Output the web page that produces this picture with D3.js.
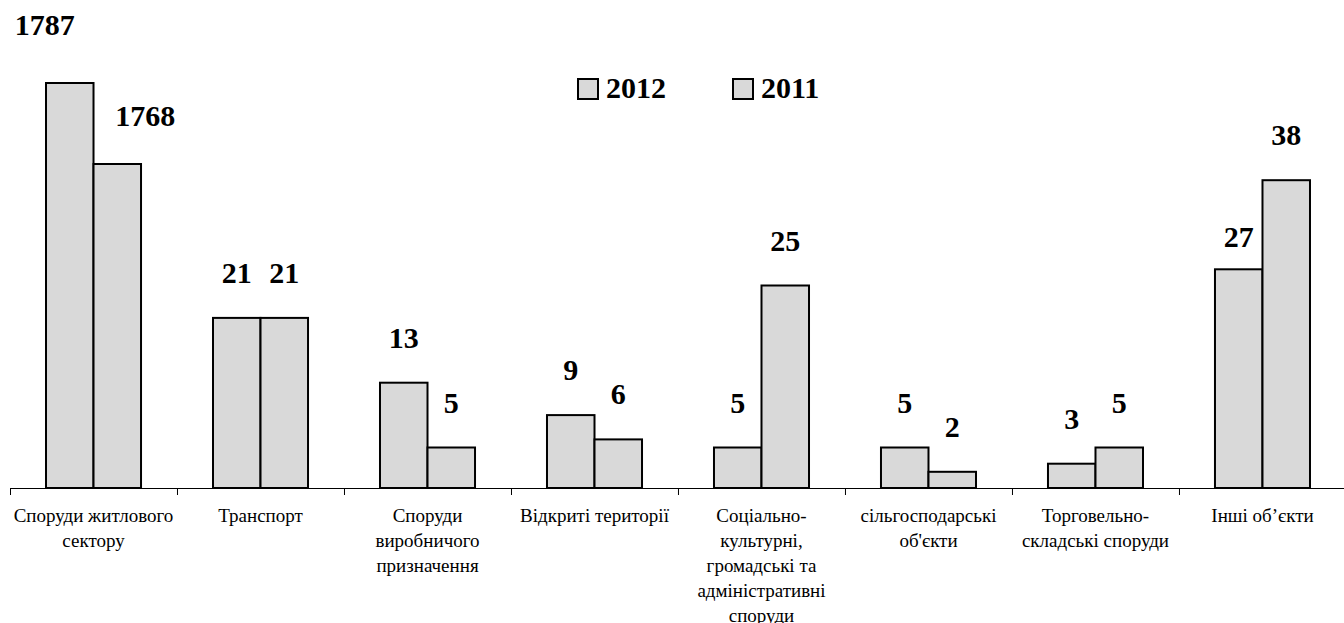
<!DOCTYPE html>
<html>
<head>
<meta charset="utf-8">
<script src="https://cdn.jsdelivr.net/npm/d3@7"></script>
<style>
  body { margin: 0; background: #fff; }
</style>
</head>
<body>
<svg id="chart" width="1344" height="623"></svg>
<script>
//^^^^^^^^^^^^^^^^^^^^^^^^^^^^^^^^^^^^^^^^^^^^^^^^^^^^^^^^^^^^^^^^^^^^^^^^^^^^^^
// Data
//------------------------------------------------------------------------------
var categories = [
    ["Споруди житлового", "сектору"],
    ["Транспорт"],
    ["Споруди", "виробничого", "призначення"],
    ["Відкриті території"],
    ["Соціально-", "культурні,", "громадські та", "адміністративні", "споруди"],
    ["сільгосподарські", "об'єкти"],
    ["Торговельно-", "складські споруди"],
    ["Інші об’єкти"]
];
var seriesNames = ["2012", "2011"];
var values2012 = [1787, 21, 13, 9, 5, 5, 3, 27];
var values2011 = [1768, 21, 5, 6, 25, 2, 5, 38];
// the housing sector is off the scale, its bars are drawn shortened
var drawn2012 = [50, 21, 13, 9, 5, 5, 3, 27];
var drawn2011 = [40, 21, 5, 6, 25, 2, 5, 38];

var svg = d3.select("#chart"),
    font = "'Liberation Serif'",
    fill = "#d9d9d9",
    base = 488;

var x = d3.scaleBand()
    .domain(d3.range(categories.length))
    .range([10, 1346])
    .paddingInner(0.431)
    .paddingOuter(0.2156);

var xs = d3.scaleBand().domain(seriesNames).range([0, x.bandwidth()]);

var y = d3.scaleLinear().domain([0, 50]).range([base, 83]);

var rows = [];
categories.forEach(function(c, i) {
    rows.push({i: i, s: "2012", v: values2012[i], h: drawn2012[i]});
    rows.push({i: i, s: "2011", v: values2011[i], h: drawn2011[i]});
});

//^^^^^^^^^^^^^^^^^^^^^^^^^^^^^^^^^^^^^^^^^^^^^^^^^^^^^^^^^^^^^^^^^^^^^^^^^^^^^^
// Bars
//------------------------------------------------------------------------------
svg.append("g").selectAll("rect")
    .data(rows)
    .enter().append("rect")
    .attr("x", function(d) { return x(d.i) + xs(d.s); })
    .attr("y", function(d) { return y(d.h); })
    .attr("width", xs.bandwidth())
    .attr("height", function(d) { return base - y(d.h); })
    .attr("fill", fill)
    .attr("stroke", "#000")
    .attr("stroke-width", 2);

//^^^^^^^^^^^^^^^^^^^^^^^^^^^^^^^^^^^^^^^^^^^^^^^^^^^^^^^^^^^^^^^^^^^^^^^^^^^^^^
// Axis line and ticks between categories
//------------------------------------------------------------------------------
var step = x.step(), x0 = x.range()[0];
var axis = svg.append("g").attr("stroke", "#000").attr("stroke-width", 1);
axis.append("line")
    .attr("x1", x0).attr("x2", x.range()[1])
    .attr("y1", base + 0.5).attr("y2", base + 0.5);
axis.selectAll("line.tick")
    .data(d3.range(categories.length + 1))
    .enter().append("line")
    .attr("class", "tick")
    .attr("x1", function(i) { return x0 + step * i + 0.5; })
    .attr("x2", function(i) { return x0 + step * i + 0.5; })
    .attr("y1", base).attr("y2", base + 7);

svg.append("g").selectAll("text")
    .data(categories)
    .enter().append("text")
    .attr("text-anchor", "middle")
    .style("font-family", font)
    .style("font-size", "19px")
    .each(function(lines, i) {
        var t = d3.select(this);
        lines.forEach(function(l, k) {
            t.append("tspan")
                .attr("x", x(i) + x.bandwidth() / 2)
                .attr("y", 522 + k * 25)
                .text(l);
        });
    });

//^^^^^^^^^^^^^^^^^^^^^^^^^^^^^^^^^^^^^^^^^^^^^^^^^^^^^^^^^^^^^^^^^^^^^^^^^^^^^^
// Value labels
//------------------------------------------------------------------------------
svg.append("g").selectAll("text")
    .data(rows)
    .enter().append("text")
    .attr("text-anchor", "middle")
    .style("font-family", font)
    .style("font-size", "30px")
    .style("font-weight", "bold")
    .attr("x", function(d) {
        var cx = x(d.i) + xs(d.s) + xs.bandwidth() / 2;
        if (d.i === 0) cx += d.s === "2012" ? -25 : 28;
        return cx;
    })
    .attr("y", function(d) {
        if (d.i === 0 && d.s === "2012") return 35;
        if (d.i === 0) return y(d.h) - 38;
        if (d.v === 27) return y(d.h) - 22;
        return y(d.h) - 35;
    })
    .text(function(d) { return d.v; });

//^^^^^^^^^^^^^^^^^^^^^^^^^^^^^^^^^^^^^^^^^^^^^^^^^^^^^^^^^^^^^^^^^^^^^^^^^^^^^^
// Legend
//------------------------------------------------------------------------------
var legend = svg.append("g").selectAll("g")
    .data(seriesNames)
    .enter().append("g")
    .attr("transform", function(d, i) { return "translate(" + (578 + i * 155) + ",79)"; });

legend.append("rect")
    .attr("width", 20).attr("height", 20)
    .attr("fill", fill)
    .attr("stroke", "#000")
    .attr("stroke-width", 2);

legend.append("text")
    .attr("x", 28).attr("y", 19)
    .style("font-family", font)
    .style("font-size", "30px")
    .style("font-weight", "bold")
    .text(function(d) { return d; });
</script>
</body>
</html>
